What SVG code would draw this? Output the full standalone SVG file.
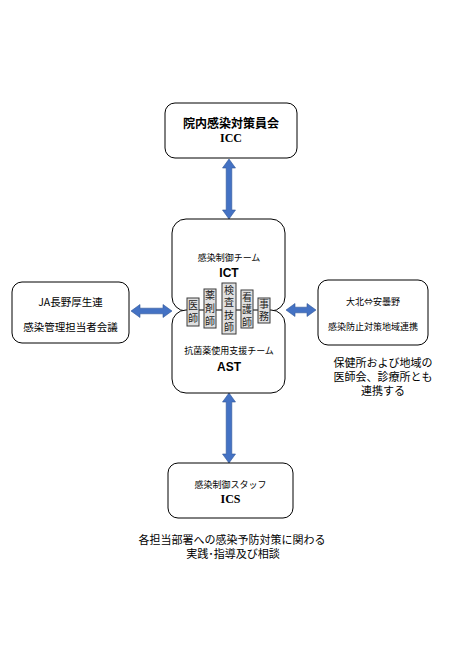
<svg xmlns="http://www.w3.org/2000/svg" width="450" height="650" viewBox="0 0 450 650">
<style>
.box{fill:#fff;stroke:#000;stroke-width:1}
.mem{fill:#e0e0e0;stroke:#3a3a3a;stroke-width:1}
.arr{fill:#4472c4;stroke:#2f5597;stroke-width:0.6}
.jp{font-family:"Noto Sans CJK JP","Noto Sans",sans-serif;fill:#000;text-anchor:middle}
.b{font-weight:bold}
.en{font-family:"Liberation Sans",Arial,sans-serif;font-weight:bold;font-size:12px;text-anchor:middle}
.ens{font-family:"Liberation Serif","Times New Roman",serif;font-weight:bold;font-size:12px;text-anchor:middle}
.v{font-family:"Noto Sans CJK JP",sans-serif;font-size:10px;fill:#222;text-anchor:middle;writing-mode:vertical-rl}
</style>
<rect width="450" height="650" fill="#fff"/>
<g id="connectors">
<path class="arr" d="M229,159 L235.5,168 L231.8,168 L231.8,210 L235.5,210 L229,219 L222.5,210 L226.2,210 L226.2,168 L222.5,168 Z"/>
<path class="arr" d="M229,393 L235.5,402 L231.8,402 L231.8,454 L235.5,454 L229,463 L222.5,454 L226.2,454 L226.2,402 L222.5,402 Z"/>
<path class="arr" d="M131,311 L140,304.5 L140,308.2 L163,308.2 L163,304.5 L172,311 L163,317.5 L163,313.8 L140,313.8 L140,317.5 Z"/>
<path class="arr" d="M286,310 L295,303.5 L295,307.2 L307,307.2 L307,303.5 L316,310 L307,316.5 L307,312.8 L295,312.8 L295,316.5 Z"/>
</g>
<g id="icc">
<rect class="box" x="165" y="103" width="132" height="55" rx="10"/>
<text class="jp b" x="231" y="128" font-size="12">院内感染対策員会</text>
<text class="ens" x="231" y="142">ICC</text>
</g>
<g id="ict">
<rect class="box" x="172" y="219" width="113" height="92" rx="14"/>
<text class="jp" x="229" y="261" font-size="9">感染制御チーム</text>
<text class="en" x="229" y="277">ICT</text>
</g>
<g id="ast">
<rect class="box" x="172" y="310" width="113" height="83" rx="14"/>
<text class="jp" x="229" y="354" font-size="9">抗菌薬使用支援チーム</text>
<text class="en" x="229" y="371">AST</text>
</g>
<g id="members">
<rect class="mem" x="187" y="298" width="12" height="28"/>
<text class="v" x="193" y="313.5" letter-spacing="3">医師</text>
<rect class="mem" x="204" y="289" width="12" height="39"/>
<text class="v" x="210" y="310" letter-spacing="3">薬剤師</text>
<rect class="mem" x="222" y="283" width="14" height="51"/>
<text class="v" x="229" y="310" letter-spacing="2.5">検査技師</text>
<rect class="mem" x="241" y="290" width="12" height="38"/>
<text class="v" x="247" y="310.5" letter-spacing="2.5">看護師</text>
<rect class="mem" x="258" y="298" width="12" height="25"/>
<text class="v" x="264" y="311.5" letter-spacing="2">事務</text>
</g>
<g id="ja">
<rect class="box" x="12" y="282" width="117" height="61" rx="10"/>
<text class="jp" x="70.5" y="305.5" font-size="10.5">JA長野厚生連</text>
<text class="jp" x="70.5" y="330.5" font-size="10.5">感染管理担当者会議</text>
</g>
<g id="region">
<rect class="box" x="318" y="280" width="110" height="65" rx="10"/>
<text class="jp" x="373" y="305" font-size="9">大北⇔安曇野</text>
<text class="jp" x="373" y="330" font-size="9">感染防止対策地域連携</text>
</g>
<g id="region-note">
<text class="jp" font-size="11"><tspan x="383" y="367">保健所および地域の</tspan><tspan x="383" y="381">医師会、診療所とも</tspan><tspan x="383" y="395">連携する</tspan></text>
</g>
<g id="ics">
<rect class="box" x="168" y="463" width="125" height="55" rx="10"/>
<text class="jp" x="230.5" y="488" font-size="9">感染制御スタッフ</text>
<text class="ens" x="230.5" y="503">ICS</text>
</g>
<g id="ics-note">
<text class="jp" font-size="11"><tspan x="232" y="544">各担当部署への感染予防対策に関わる</tspan><tspan x="233" y="557.5">実践･指導及び相談</tspan></text>
</g>
</svg>
